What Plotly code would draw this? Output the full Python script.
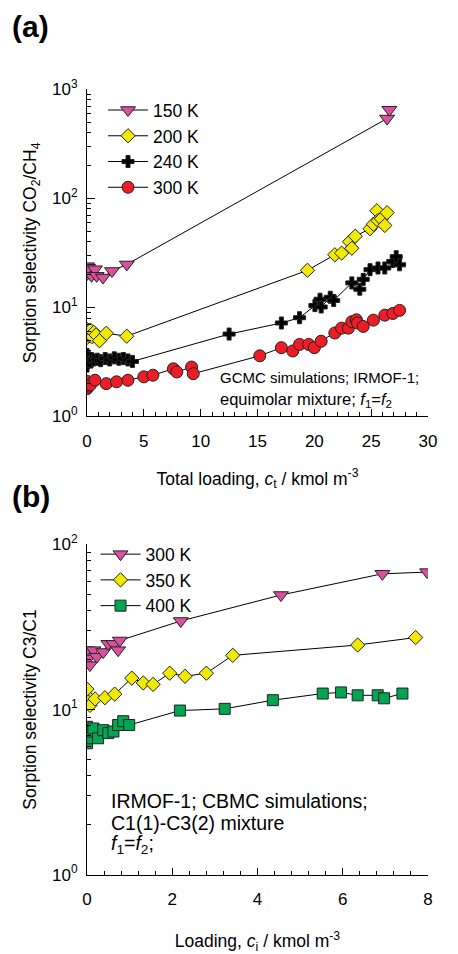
import plotly.graph_objects as go

# ---------------- Panel (a): CO2/CH4 selectivity in IRMOF-1 (GCMC) ----------------
ct_150 = [0.0, 0.0, 0.0, 0.1, 0.4, 0.7, 0.85, 1.4, 2.2, 3.5, 26.4, 26.6]
s_150 = [23.9, 22.3, 20.2, 23.1, 19.5, 22.4, 19.5, 18.8, 21.6, 24.8, 540, 650]

ct_200 = [0.0, 0.0, 0.05, 0.1, 0.2, 0.3, 0.45, 0.6, 0.8, 1.1, 1.7, 3.5,
          19.4, 21.8, 22.4, 23.1, 23.3, 23.6, 24.9, 25.2, 25.5, 25.6, 25.9, 26.2, 26.4]
s_200 = [5.3, 6.3, 5.7, 6.1, 5.5, 6.2, 5.4, 5.9, 5.6, 4.95, 5.8, 5.45,
         21.9, 30.4, 31.5, 40.0, 34.9, 45.0, 52.7, 58.0, 77.0, 62.7, 65.0, 56.5, 74.0]

ct_240 = [0.0, 0.0, 0.0, 0.05, 0.1, 0.2, 0.4, 0.6, 0.9, 1.2, 1.6, 2.0, 2.4, 2.8,
          3.2, 3.6, 4.0, 12.5, 17.1, 18.7, 20.05, 20.5, 20.6, 21.4, 21.7, 23.3,
          24.0, 24.3, 24.9, 25.6, 26.2, 26.9, 27.2, 27.5]
s_240 = [2.9, 3.3, 3.7, 3.1, 3.5, 3.2, 3.4, 3.3, 3.35, 3.25, 3.4, 3.3, 3.45, 3.35,
         3.4, 3.3, 3.2, 5.7, 7.2, 8.05, 10.4, 11.9, 10.1, 12.4, 11.6, 16.8,
         14.7, 18.1, 22.2, 23.0, 23.0, 26.4, 29.2, 24.6]

ct_300 = [0.0, 0.0, 0.0, 0.1, 0.3, 0.7, 1.7, 2.6, 3.6, 5.0, 5.8, 7.6, 7.9, 9.2, 9.35,
          15.2, 17.1, 18.1, 18.7, 19.5, 20.0, 20.6, 21.8, 22.4, 23.0, 23.3, 23.7,
          23.8, 24.3, 25.2, 26.2, 26.9, 27.5]
s_300 = [1.8, 2.0, 2.1, 1.9, 1.95, 2.15, 2.0, 2.08, 2.15, 2.31, 2.39, 2.74, 2.56, 2.84, 2.47,
         3.6, 4.28, 3.99, 4.58, 4.58, 4.28, 4.9, 5.83, 6.46, 6.46, 7.4, 7.7,
         7.2, 6.7, 7.65, 8.5, 8.8, 9.4]

# ---------------- Panel (b): C3/C1 selectivity in IRMOF-1 (CBMC) ----------------
ci_300 = [0.0, 0.03, 0.07, 0.15, 0.23, 0.38, 0.5, 0.62, 0.73, 0.77, 2.2, 4.55, 6.93, 7.98]
s3_300 = [22.9, 20.4, 18.6, 22.9, 20.9, 22.3, 25.0, 25.0, 22.9, 26.2, 34.4, 49.4, 66.4, 68.0]

ci_350 = [0.0, 0.0, 0.03, 0.07, 0.19, 0.42, 0.65, 1.05, 1.32, 1.55, 1.94, 2.3, 2.8,
          3.42, 6.35, 7.71]
s3_350 = [12.1, 13.3, 11.1, 10.6, 11.6, 11.8, 12.4, 15.5, 14.5, 14.2, 16.6, 15.9, 16.6,
          21.3, 24.6, 27.3]

ci_400 = [0.0, 0.0, 0.0, 0.07, 0.15, 0.26, 0.38, 0.5, 0.62, 0.73, 0.85, 0.99,
          2.18, 3.23, 4.36, 5.53, 5.96, 6.35, 6.82, 6.97, 7.4]
s3_400 = [6.25, 6.7, 7.86, 7.36, 7.68, 6.7, 7.5, 7.2, 7.36, 8.06, 8.5, 8.06,
          9.86, 10.1, 11.4, 12.5, 12.7, 12.2, 12.2, 11.7, 12.5]

MAGENTA = "#d9509f"
YELLOW = "#f2e900"
BLACK = "#000000"
RED = "#ee1c24"
GREEN = "#00a651"

FONT = "Liberation Sans, Arial, sans-serif"


def series(x, y, name, symbol, color, size, xa, ya, legend):
    return go.Scatter(
        x=x, y=y, name=name, mode="lines+markers",
        xaxis=xa, yaxis=ya, legend=legend,
        line=dict(color="black", width=1),
        marker=dict(symbol=symbol, size=size, color=color,
                    line=dict(color="#222222", width=1)),
    )


fig = go.Figure()
fig.add_trace(series(ct_150, s_150, "150 K", "triangle-down", MAGENTA, 13, "x", "y", "legend"))
fig.add_trace(series(ct_200, s_200, "200 K", "diamond", YELLOW, 11, "x", "y", "legend"))
fig.add_trace(series(ct_240, s_240, "240 K", "cross", BLACK, 10, "x", "y", "legend"))
fig.add_trace(series(ct_300, s_300, "300 K", "circle", RED, 12, "x", "y", "legend"))

fig.add_trace(series(ci_300, s3_300, "300 K", "triangle-down", MAGENTA, 13, "x2", "y2", "legend2"))
fig.add_trace(series(ci_350, s3_350, "350 K", "diamond", YELLOW, 11, "x2", "y2", "legend2"))
fig.add_trace(series(ci_400, s3_400, "400 K", "square", GREEN, 11, "x2", "y2", "legend2"))

tickfont = dict(family=FONT, size=17, color="black")
titlefont = dict(family=FONT, size=17.5, color="black")


def minor_log(decades):
    vals = []
    for d in decades:
        vals += [m * 10 ** d for m in range(2, 10)]
    return vals


common_x = dict(showline=True, linecolor="black", linewidth=1, showgrid=False,
                zeroline=False, ticks="inside", ticklen=7, tickcolor="black",
                tickfont=tickfont, ticklabelstandoff=9, mirror=False)
common_y = dict(type="log", showline=True, linecolor="black", linewidth=1,
                showgrid=False, zeroline=False, ticks="inside", ticklen=8,
                tickcolor="black", tickfont=tickfont, tickmode="array",
                ticklabelstandoff=5, mirror=False)

legend_font = dict(family=FONT, size=17.5, color="black")

fig.update_layout(
    width=458, height=954,
    margin=dict(l=87, r=30, t=0, b=0),
    paper_bgcolor="white", plot_bgcolor="white",
    font=dict(family=FONT, size=17, color="black"),
    xaxis=dict(common_x, domain=[0, 1], range=[0, 30], anchor="y",
               tickmode="linear", tick0=0, dtick=5,
               minor=dict(ticks="inside", ticklen=4, dtick=1, tick0=0,
                          tickcolor="black", showgrid=False),
               title=dict(text="Total loading, <i>c</i><sub>t</sub> / kmol m<sup>-3</sup>",
                          font=titlefont, standoff=22)),
    yaxis=dict(common_y, domain=[0.566, 0.917], range=[0, 3], anchor="x",
               tickvals=[1, 10, 100, 1000],
               ticktext=["10<sup>0</sup>", "10<sup>1</sup>", "10<sup>2</sup>", "10<sup>3</sup>"],
               minor=dict(ticks="inside", ticklen=4, tickmode="array",
                          tickvals=minor_log([0, 1, 2]), tickcolor="black", showgrid=False),
               title=dict(text="Sorption selectivity CO<sub>2</sub>/CH<sub>4</sub>",
                          font=titlefont, standoff=10)),
    xaxis2=dict(common_x, domain=[0, 1], range=[0, 8], anchor="y2",
                tickmode="linear", tick0=0, dtick=2,
                minor=dict(ticks="inside", ticklen=4, dtick=0.4, tick0=0,
                           tickcolor="black", showgrid=False),
                title=dict(text="Loading, <i>c</i><sub>i</sub> / kmol m<sup>-3</sup>",
                           font=titlefont, standoff=30)),
    yaxis2=dict(common_y, domain=[0.0744, 0.4287], range=[0, 2], anchor="x2",
                tickvals=[1, 10, 100],
                ticktext=["10<sup>0</sup>", "10<sup>1</sup>", "10<sup>2</sup>"],
                minor=dict(ticks="inside", ticklen=4, tickmode="array",
                           tickvals=minor_log([0, 1]), tickcolor="black", showgrid=False),
                title=dict(text="Sorption selectivity C3/C1",
                           font=titlefont, standoff=10)),
    legend=dict(x=0.047, y=0.914, xref="paper", yref="paper", xanchor="left", yanchor="top",
                bgcolor="rgba(0,0,0,0)", borderwidth=0, itemwidth=40,
                font=legend_font, tracegroupgap=0),
    legend2=dict(x=0.025, y=0.4375, xref="paper", yref="paper", xanchor="left", yanchor="top",
                 bgcolor="rgba(0,0,0,0)", borderwidth=0, itemwidth=40,
                 font=legend_font, tracegroupgap=0),
    showlegend=True,
)

# Panel labels
fig.add_annotation(text="<b>(a)</b>", xref="paper", yref="paper", x=-0.225, y=0.984,
                   xanchor="left", yanchor="middle", showarrow=False,
                   font=dict(family=FONT, size=30, color="black"))
fig.add_annotation(text="<b>(b)</b>", xref="paper", yref="paper", x=-0.225, y=0.48,
                   xanchor="left", yanchor="middle", showarrow=False,
                   font=dict(family=FONT, size=30, color="black"))

# Simulation notes, one annotation per line
notes_a = [("GCMC simulations; IRMOF-1;", 0.6075, 15),
           ("equimolar mixture; <i>f</i><sub>1</sub>=<i>f</i><sub>2</sub>", 0.5840, 16.5)]
for txt, yy, fs in notes_a:
    fig.add_annotation(text=txt, xref="paper", yref="paper", x=0.384, y=yy,
                       xanchor="left", yanchor="middle", align="left", showarrow=False,
                       font=dict(family=FONT, size=fs, color="black"))

notes_b = ["IRMOF-1; CBMC simulations;",
           "C1(1)-C3(2) mixture",
           "<i>f</i><sub>1</sub>=<i>f</i><sub>2</sub>;"]
for txt, yy in zip(notes_b, [0.1535, 0.1295, 0.1065]):
    fig.add_annotation(text=txt, xref="paper", yref="paper", x=0.064, y=yy,
                       xanchor="left", yanchor="middle", align="left", showarrow=False,
                       font=dict(family=FONT, size=19.5, color="black"))

fig.write_html("out.html")
